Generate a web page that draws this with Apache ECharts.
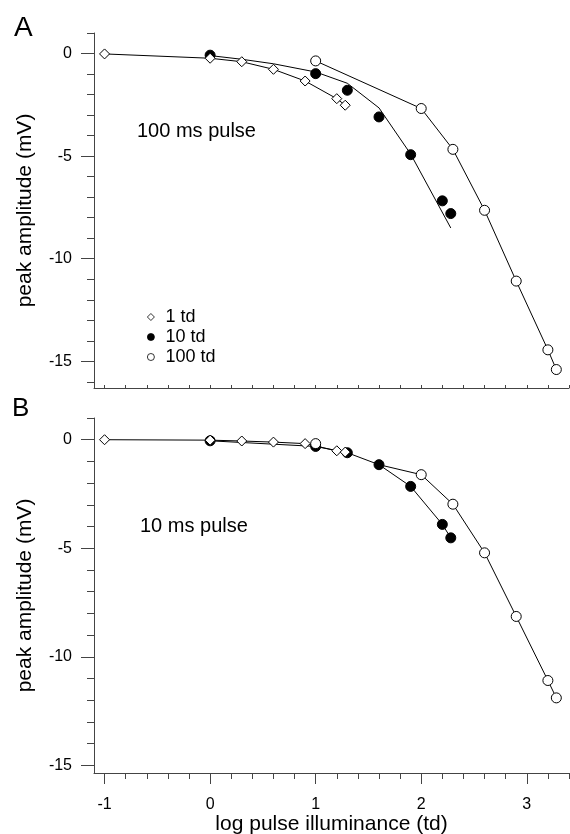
<!DOCTYPE html>
<html>
<head>
<meta charset="utf-8">
<script src="https://cdn.jsdelivr.net/npm/echarts@6/dist/echarts.min.js"></script>
<style>
html,body{margin:0;padding:0;background:#fff;}
#chart{width:570px;height:834px;}
</style>
</head>
<body>
<div id="chart"></div>
<script>
// ---------- data ----------
// Panel A : 100 ms pulse
const a1tdX  = [-1, 0, 0.3, 0.6, 0.9, 1.2, 1.28];
const a1tdY  = [-0.02, -0.23, -0.4, -0.77, -1.34, -2.2, -2.52];
const a10tdX = [0, 1, 1.3, 1.6, 1.9, 2.2, 2.28];
const a10tdY = [-0.08, -0.98, -1.79, -3.09, -4.93, -7.18, -7.8];
const a10fitX = [0, 0.3, 0.6, 1.0, 1.3, 1.6, 1.9, 2.28];
const a10fitY = [-0.1, -0.28, -0.5, -0.9, -1.45, -2.65, -4.9, -8.5];
const a100tdX = [1, 2, 2.3, 2.6, 2.9, 3.2, 3.28];
const a100tdY = [-0.36, -2.68, -4.67, -7.64, -11.09, -14.44, -15.4];

// Panel B : 10 ms pulse
const b1tdX  = [-1, 0, 0.3, 0.6, 0.9, 1.2, 1.28];
const b1tdY  = [0, -0.02, -0.06, -0.11, -0.18, -0.51, -0.57];
const b10tdX = [0, 1, 1.3, 1.6, 1.9, 2.2, 2.28];
const b10tdY = [-0.05, -0.31, -0.6, -1.15, -2.15, -3.9, -4.52];
const b100tdX = [1, 2, 2.3, 2.6, 2.9, 3.2, 3.28];
const b100tdY = [-0.18, -1.61, -2.97, -5.21, -8.14, -11.09, -11.89];
const b100fitX = [1.6, 2, 2.3, 2.6, 2.9, 3.2, 3.28];
const b100fitY = [-1.15, -1.61, -2.97, -5.21, -8.14, -11.09, -11.89];

// ---------- ticks ----------
const xMinorTicks = [-1, -0.8, -0.6, -0.4, -0.2, 0, 0.2, 0.4, 0.6, 0.8, 1, 1.2, 1.4, 1.6, 1.8, 2, 2.2, 2.4, 2.6, 2.8, 3, 3.2, 3.4];
const xMajorTicks = [-1, 0, 1, 2, 3];
const yMinorTicksA = [1, 0, -1, -2, -3, -4, -5, -6, -7, -8, -9, -10, -11, -12, -13, -14, -15, -16];
const yMinorTicksB = [1, 0, -1, -2, -3, -4, -5, -6, -7, -8, -9, -10, -11, -12, -13, -14, -15];
const yMajorTicks = [0, -5, -10, -15];

const zip = (xs, ys) => xs.map((x, i) => [x, ys[i]]);

const FONT = '"Liberation Sans", Arial, Helvetica, sans-serif';
const AX = '#444';

const chart = echarts.init(document.getElementById('chart'), null, {renderer: 'canvas'});

function yAxesFor(gridIndex, min, minorTicks) {
  return [
    {
      type: 'value', gridIndex, position: 'left', min, max: 1,
      axisLine: {show: true, onZero: false, lineStyle: {color: AX, width: 1}},
      axisTick: {show: true, inside: false, length: 7, customValues: minorTicks, lineStyle: {color: AX}},
      axisLabel: {show: false},
      splitLine: {show: false}
    },
    {
      type: 'value', gridIndex, position: 'left', min, max: 1,
      axisLine: {show: false, onZero: false},
      axisTick: {show: true, inside: false, length: 13, customValues: yMajorTicks, lineStyle: {color: AX}},
      axisLabel: {show: true, customValues: yMajorTicks, margin: 22, color: '#000', fontSize: 16, fontFamily: FONT},
      splitLine: {show: false},
      name: 'peak amplitude (mV)', nameLocation: 'middle', nameGap: 58,
      nameTextStyle: {color: '#000', fontSize: 21, fontFamily: FONT}
    }
  ];
}

const lineStyle = {color: '#000', width: 1};
function line(data, xi, yi) {
  return {type: 'line', xAxisIndex: xi, yAxisIndex: yi, data, symbol: 'none',
          lineStyle, silent: true, z: 1, legendHoverLink: false};
}
function pts(name, data, xi, yi, kind) {
  const s = {type: 'scatter', name, xAxisIndex: xi, yAxisIndex: yi, data, symbolSize: 10};
  if (kind === 'diamond') {
    s.symbol = 'diamond';
    s.itemStyle = {color: '#fff', borderColor: '#000', borderWidth: 1, opacity: 1};
    s.z = 5;
  } else if (kind === 'filled') {
    s.symbol = 'circle';
    s.itemStyle = {color: '#000', borderColor: '#000', borderWidth: 1, opacity: 1};
    s.z = 3;
  } else {
    s.symbol = 'circle';
    s.itemStyle = {color: '#fff', borderColor: '#000', borderWidth: 1, opacity: 1};
    s.z = 4;
  }
  return s;
}

const option = {
  animation: false,
  backgroundColor: '#fff',
  grid: [
    {left: 94, top: 33, width: 475, height: 355, outerBoundsMode: 'none', containLabel: false},
    {left: 94, top: 418, width: 475, height: 355, outerBoundsMode: 'none', containLabel: false}
  ],
  xAxis: [
    {
      type: 'value', gridIndex: 0, position: 'bottom', min: -1.1, max: 3.4,
      axisLine: {show: true, onZero: false, lineStyle: {color: AX, width: 1}},
      axisTick: {show: true, inside: true, length: 3, customValues: xMinorTicks, lineStyle: {color: AX}},
      axisLabel: {show: false}, splitLine: {show: false}
    },
    {
      type: 'value', gridIndex: 1, position: 'bottom', min: -1.1, max: 3.4,
      axisLine: {show: true, onZero: false, lineStyle: {color: AX, width: 1}},
      axisTick: {show: true, inside: false, length: 6, customValues: xMinorTicks, lineStyle: {color: AX}},
      axisLabel: {show: false}, splitLine: {show: false}
    },
    {
      type: 'value', gridIndex: 1, position: 'bottom', min: -1.1, max: 3.4,
      axisLine: {show: false, onZero: false},
      axisTick: {show: true, inside: false, length: 11, customValues: xMajorTicks, lineStyle: {color: AX}},
      axisLabel: {show: true, customValues: xMajorTicks, margin: 24, color: '#000', fontSize: 16, fontFamily: FONT},
      splitLine: {show: false},
      name: 'log pulse illuminance (td)', nameLocation: 'middle', nameGap: 41,
      nameTextStyle: {color: '#000', fontSize: 21, fontFamily: FONT}
    }
  ],
  yAxis: [].concat(yAxesFor(0, -16.3, yMinorTicksA), yAxesFor(1, -15.35, yMinorTicksB)),
  legend: {
    show: true, orient: 'vertical', left: 142, top: 303,
    data: [
      {name: '1 td', icon: 'diamond'},
      {name: '10 td', icon: 'circle'},
      {name: '100 td', icon: 'circle'}
    ],
    itemWidth: 7, itemHeight: 7, itemGap: 2,
    selectedMode: false,
    itemStyle: {borderWidth: 0.8},
    textStyle: {color: '#000', fontSize: 18, fontFamily: FONT, lineHeight: 18, padding: [0, 0, 0, 6]}
  },
  graphic: [
    {type: 'text', left: 14, top: 14, style: {text: 'A', font: '28px ' + FONT, fill: '#000'}},
    {type: 'text', left: 12, top: 396, style: {text: 'B', font: '26px ' + FONT, fill: '#000'}},
    {type: 'text', x: 137, y: 131, style: {text: '100 ms pulse', font: '20px ' + FONT, fill: '#000', textVerticalAlign: 'middle'}},
    {type: 'text', x: 140, y: 526, style: {text: '10 ms pulse', font: '20px ' + FONT, fill: '#000', textVerticalAlign: 'middle'}}
  ],
  series: [
    // Panel A
    line(zip(a1tdX, a1tdY), 0, 0),
    line(zip(a10fitX, a10fitY), 0, 0),
    line(zip(a100tdX, a100tdY), 0, 0),
    pts('10 td', zip(a10tdX, a10tdY), 0, 0, 'filled'),
    pts('100 td', zip(a100tdX, a100tdY), 0, 0, 'open'),
    pts('1 td', zip(a1tdX, a1tdY), 0, 0, 'diamond'),
    // Panel B
    line(zip(b1tdX, b1tdY), 1, 2),
    line(zip(b10tdX, b10tdY), 1, 2),
    line(zip(b100fitX, b100fitY), 1, 2),
    pts('10 td', zip(b10tdX, b10tdY), 1, 2, 'filled'),
    pts('100 td', zip(b100tdX, b100tdY), 1, 2, 'open'),
    pts('1 td', zip(b1tdX, b1tdY), 1, 2, 'diamond')
  ]
};
chart.setOption(option);
</script>
</body>
</html>
